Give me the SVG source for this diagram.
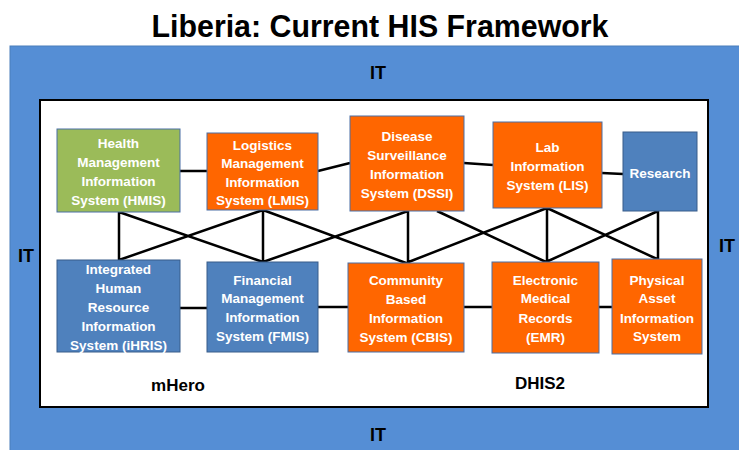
<svg xmlns="http://www.w3.org/2000/svg" width="739" height="450" viewBox="0 0 739 450">
<style>
.t{font-family:"Liberation Sans",Arial,sans-serif;font-weight:bold;fill:#fff;font-size:13.5px;text-anchor:middle}
.lbl{font-family:"Liberation Sans",Arial,sans-serif;font-weight:bold;fill:#000;text-anchor:middle}
.org{fill:#ff6600;stroke:#4a6fa5;stroke-width:1}
.blu{fill:#4f81bd;stroke:#385d8a;stroke-width:1}
.grn{fill:#9bbb59;stroke:#4a6fa5;stroke-width:1}
.ln{stroke:#000;stroke-width:2.5;fill:none}
</style>
<rect width="739" height="450" fill="#fff"/>
<text x="380" y="37" class="lbl" font-size="32" textLength="457" lengthAdjust="spacingAndGlyphs">Liberia: Current HIS Framework</text>
<g id="it-frame">
<rect x="10" y="46" width="740" height="410" fill="#558ed5" stroke="#4a7ebb" stroke-width="1"/>
<text x="378" y="79" class="lbl" font-size="18">IT</text>
<text x="26" y="262" class="lbl" font-size="18">IT</text>
<text x="727" y="252" class="lbl" font-size="18">IT</text>
<text x="378" y="441" class="lbl" font-size="18">IT</text>
</g>
<g id="inner">
<rect x="40" y="100" width="668" height="307" fill="#fff" stroke="#000" stroke-width="2"/>
<text x="178" y="391" class="lbl" font-size="17">mHero</text>
<text x="540" y="389" class="lbl" font-size="17">DHIS2</text>
</g>
<g id="connectors">
<path class="ln" d="M180 171H207M318 171L350 163M464 163L493 165M602 173L623 174"/>
<path class="ln" d="M180 308H207M318 307H348M464 307H492M599 307H612"/>
<path class="ln" d="M119 212V260M119 212L263 262M263 210L119 260M263 210V262M263 210L406 263M408 211L263 262M408 211V263M437 211L546 262M547 208L406 263M547 208V262M547 208L657 259M658 211L546 262M658 211V259"/>
</g>
<g id="hmis">
<rect class="grn" x="57" y="129" width="123" height="83"/>
<text class="t" x="118.5" y="148">Health</text>
<text class="t" x="118.5" y="167">Management</text>
<text class="t" x="118.5" y="186">Information</text>
<text class="t" x="118.5" y="205">System (HMIS)</text>
</g>
<g id="lmis">
<rect class="org" x="207" y="133" width="111" height="77"/>
<text class="t" x="262.5" y="150">Logistics</text>
<text class="t" x="262.5" y="168">Management</text>
<text class="t" x="262.5" y="187">Information</text>
<text class="t" x="262.5" y="205">System (LMIS)</text>
</g>
<g id="dssi">
<rect class="org" x="350" y="116" width="114" height="95"/>
<text class="t" x="407" y="141">Disease</text>
<text class="t" x="407" y="160">Surveillance</text>
<text class="t" x="407" y="179">Information</text>
<text class="t" x="407" y="198">System (DSSI)</text>
</g>
<g id="lis">
<rect class="org" x="493" y="122" width="109" height="86"/>
<text class="t" x="547.5" y="152">Lab</text>
<text class="t" x="547.5" y="171">Information</text>
<text class="t" x="547.5" y="190">System (LIS)</text>
</g>
<g id="research">
<rect class="blu" x="623" y="132" width="74" height="79"/>
<text class="t" x="660" y="178">Research</text>
</g>
<g id="ihris">
<rect class="blu" x="57" y="260" width="123" height="92"/>
<text class="t" x="118.5" y="274">Integrated</text>
<text class="t" x="118.5" y="293">Human</text>
<text class="t" x="118.5" y="312">Resource</text>
<text class="t" x="118.5" y="331">Information</text>
<text class="t" x="118.5" y="350">System (iHRIS)</text>
</g>
<g id="fmis">
<rect class="blu" x="207" y="262" width="111" height="90"/>
<text class="t" x="262.5" y="285">Financial</text>
<text class="t" x="262.5" y="303">Management</text>
<text class="t" x="262.5" y="322">Information</text>
<text class="t" x="262.5" y="341">System (FMIS)</text>
</g>
<g id="cbis">
<rect class="org" x="348" y="263" width="116" height="89"/>
<text class="t" x="406" y="285">Community</text>
<text class="t" x="406" y="304">Based</text>
<text class="t" x="406" y="323">Information</text>
<text class="t" x="406" y="342">System (CBIS)</text>
</g>
<g id="emr">
<rect class="org" x="492" y="262" width="107" height="91"/>
<text class="t" x="545.5" y="285">Electronic</text>
<text class="t" x="545.5" y="303">Medical</text>
<text class="t" x="545.5" y="323">Records</text>
<text class="t" x="545.5" y="342">(EMR)</text>
</g>
<g id="pais">
<rect class="org" x="612" y="259" width="90" height="95"/>
<text class="t" x="657" y="285">Physical</text>
<text class="t" x="657" y="303">Asset</text>
<text class="t" x="657" y="323">Information</text>
<text class="t" x="657" y="341">System</text>
</g>
</svg>
